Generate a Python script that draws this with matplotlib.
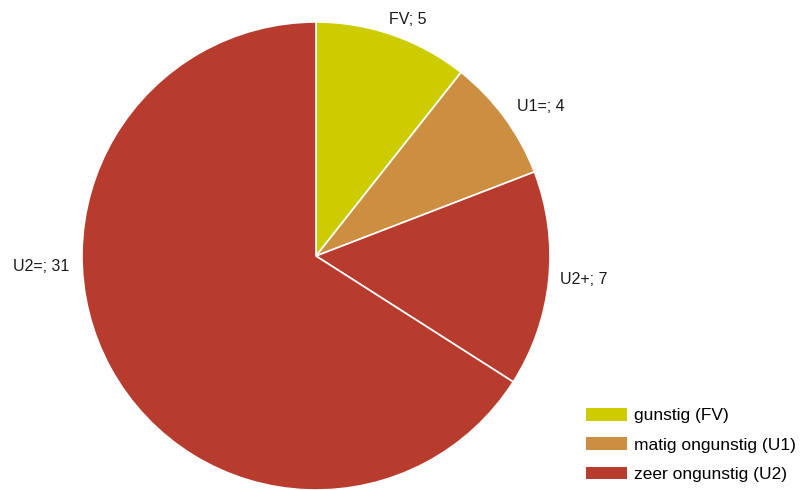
import matplotlib
matplotlib.use("Agg")
import matplotlib.pyplot as plt
from matplotlib.patches import Patch

plt.rcParams['font.family'] = ['Liberation Sans', 'DejaVu Sans']

labels = ["FV", "U1=", "U2+", "U2="]
values = [5, 4, 7, 31]
colors = ["#cccc00", "#cc8f42", "#b83c2e", "#b83c2e"]
legend_labels = ["gunstig (FV)", "matig ongunstig (U1)", "zeer ongunstig (U2)"]
legend_colors = ["#cccc00", "#cc8f42", "#b83c2e"]
# label positions (data coords, pie radius = 1)
label_pos = [(0.39, 1.01), (0.962, 0.64), (1.145, -0.10), (-1.175, -0.047)]

W, H = 801, 490
fig = plt.figure(figsize=(W/100, H/100), dpi=100)
cx, cy, r = 316, 256, 234
ax = fig.add_axes([(cx - r)/W, (H - cy - r)/H, 2*r/W, 2*r/H])
ax.pie(values, colors=colors, startangle=90, counterclock=False, radius=1,
       wedgeprops=dict(edgecolor="white", linewidth=1.2))
ax.set_xlim(-1, 1)
ax.set_ylim(-1, 1)
ax.set_aspect("equal")
ax.axis("off")

for lab, v, (x, y) in zip(labels, values, label_pos):
    ax.text(x, y, f"{lab}; {v}", ha="center", va="center", fontsize=11.5,
            color="#1a1a1a", clip_on=False)

handles = [Patch(facecolor=c, edgecolor="none") for c in legend_colors]
fig.legend(handles, legend_labels, loc="upper left",
           bbox_to_anchor=(586/W, 1 - 408/H), frameon=False, fontsize=12.5,
           handlelength=2.36, handleheight=0.75, handletextpad=0.4,
           labelspacing=0.8, borderaxespad=0, borderpad=0)

fig.savefig("out.png", dpi=100)
